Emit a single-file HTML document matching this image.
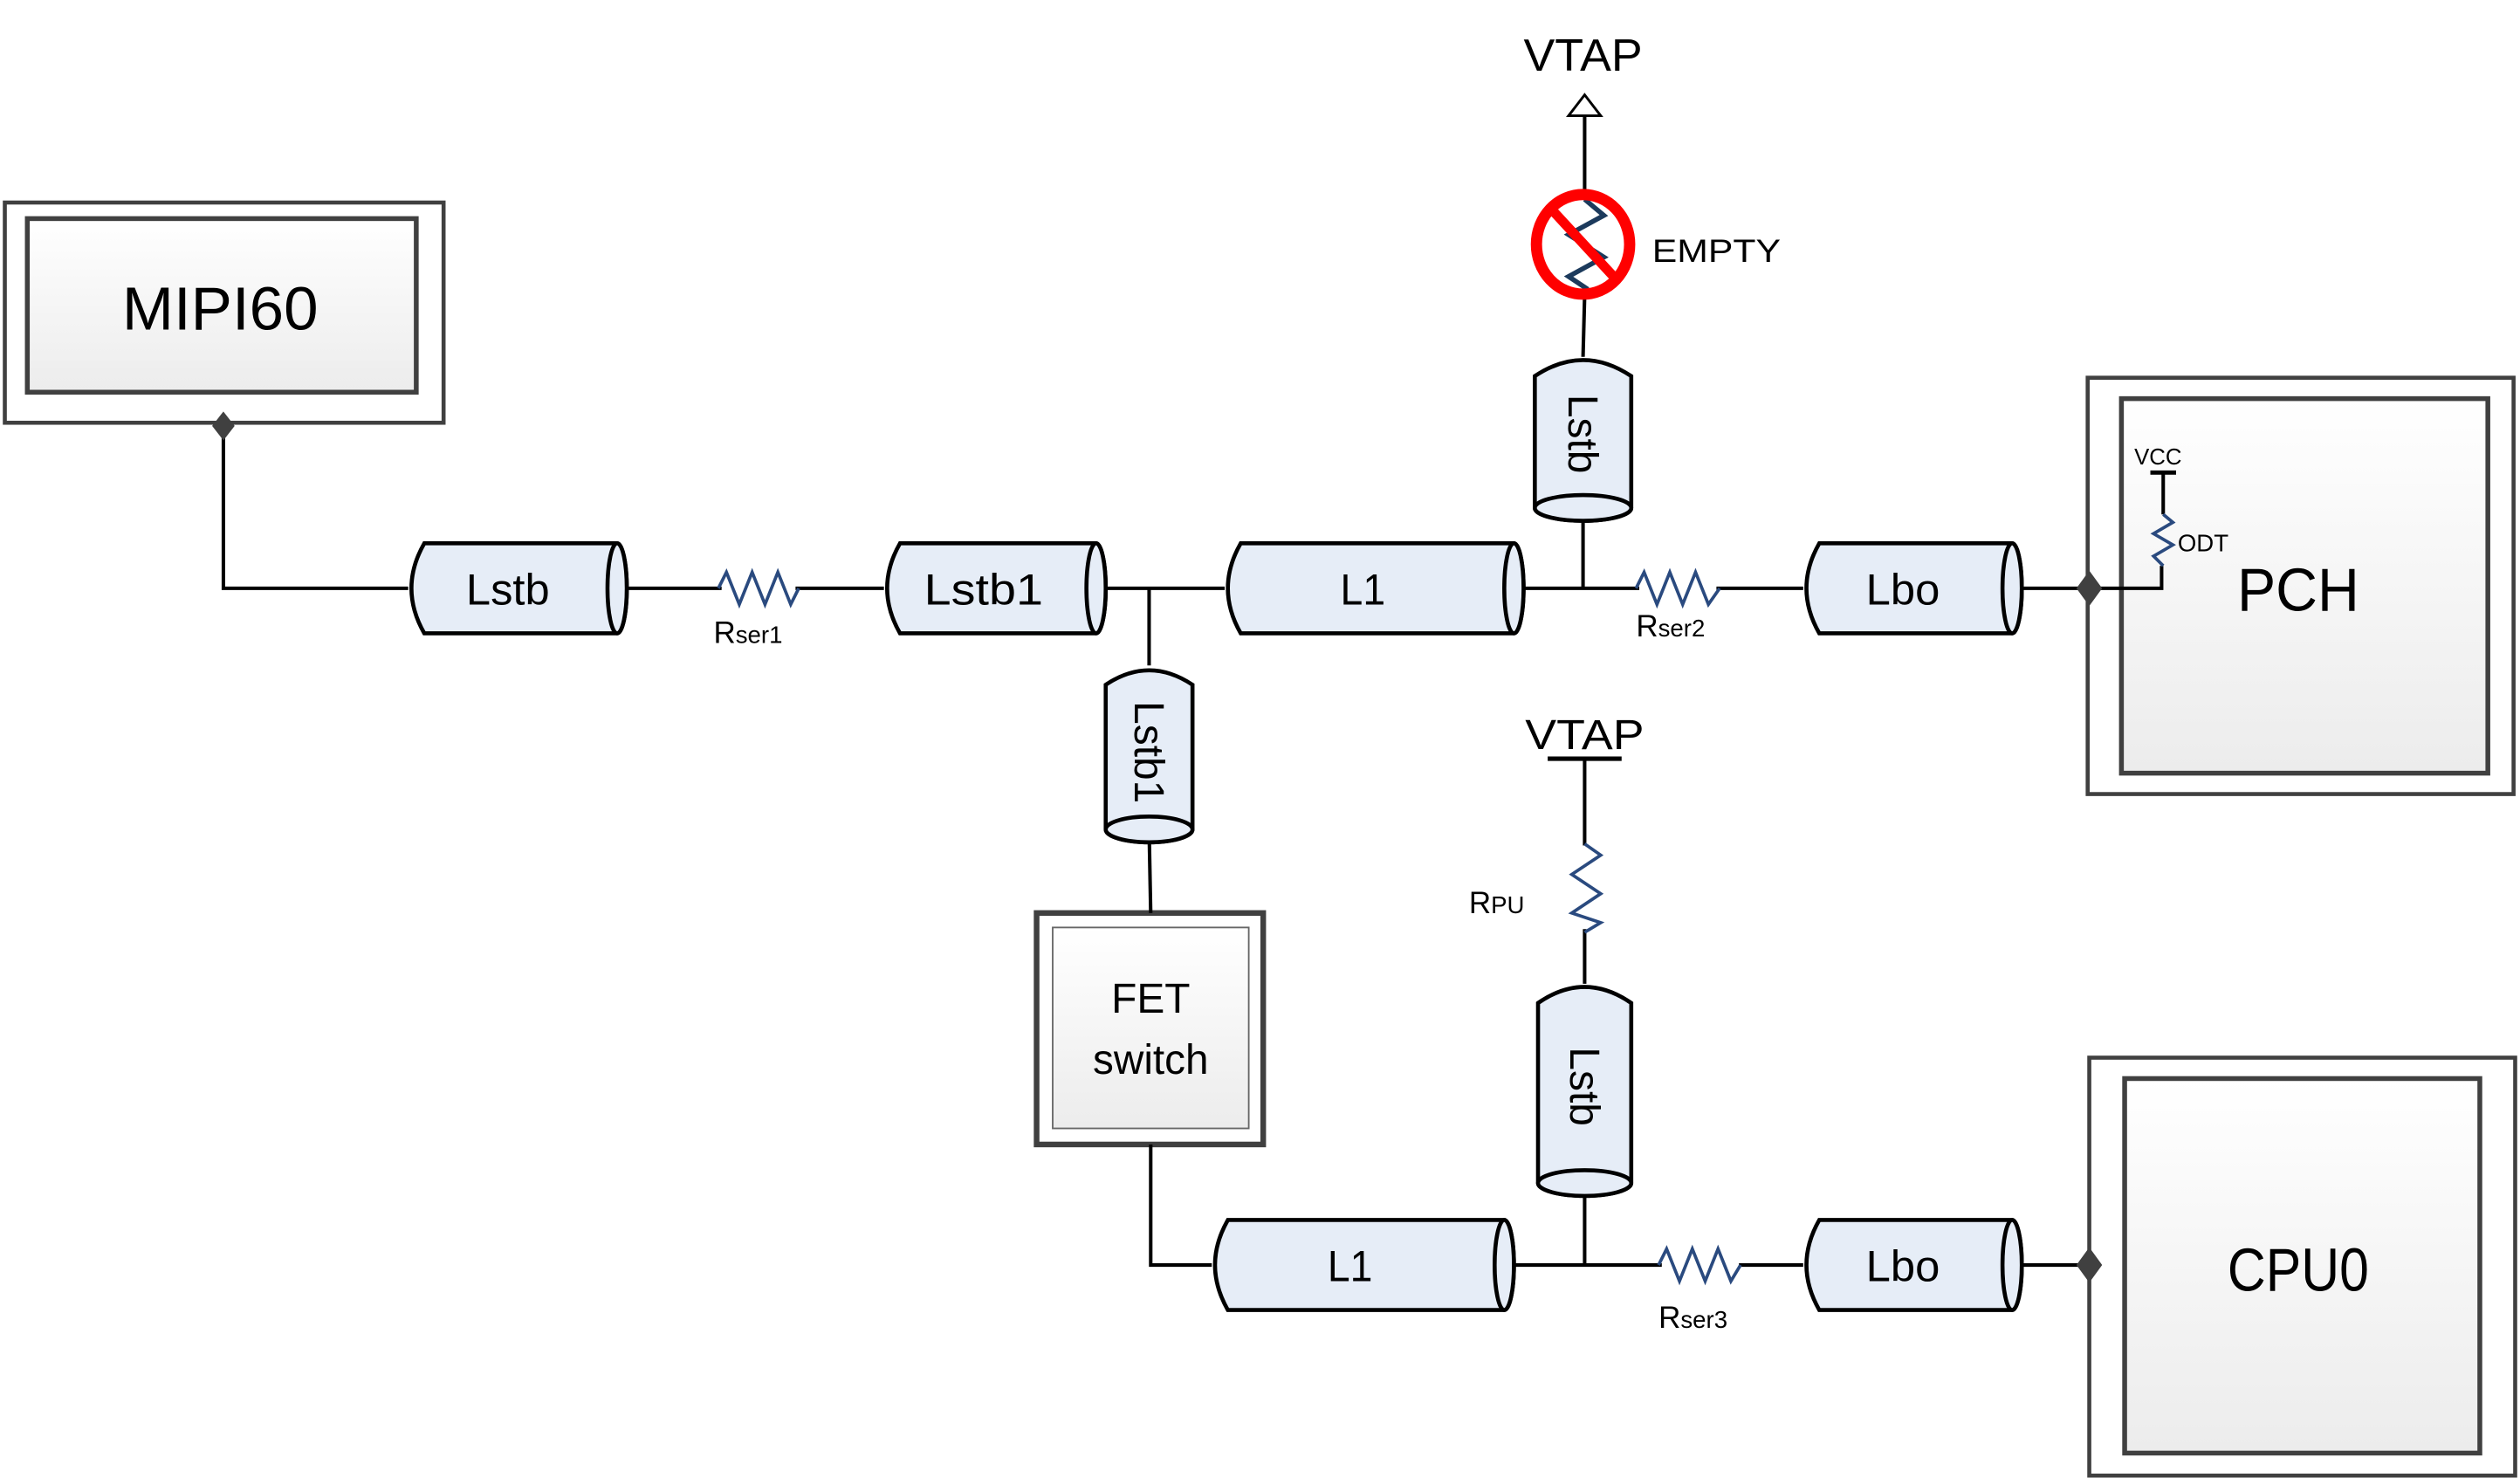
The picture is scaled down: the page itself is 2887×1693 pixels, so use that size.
<!DOCTYPE html>
<html><head><meta charset="utf-8"><style>
html,body{margin:0;padding:0;background:#fff;}
svg{display:block;}
text{font-family:"Liberation Sans",sans-serif;fill:#000;}
</style></head><body>
<svg width="2887" height="1693" viewBox="0 0 1568 919.5" preserveAspectRatio="none" xmlns="http://www.w3.org/2000/svg">
<defs>
<linearGradient id="g" x1="0" y1="0" x2="0" y2="1"><stop offset="0" stop-color="#ffffff"/><stop offset="1" stop-color="#ececec"/></linearGradient>
</defs>
<!-- boxes -->
<g stroke="#404040" stroke-width="2.5">
<rect x="3" y="126" width="273" height="137" fill="#fff"/>
<rect x="17" y="136" width="242" height="108" fill="url(#g)" stroke-width="3"/>
<rect x="1299" y="235" width="265" height="259" fill="#fff"/>
<rect x="1320" y="248" width="228" height="233" fill="url(#g)" stroke-width="3"/>
<rect x="1300" y="658" width="265" height="260" fill="#fff"/>
<rect x="1322" y="671" width="221" height="233" fill="url(#g)" stroke-width="3"/>
<rect x="645" y="568" width="141" height="144" fill="#fff" stroke-width="3.5"/>
<rect x="655" y="577" width="122" height="125" fill="url(#g)" stroke="#666" stroke-width="1"/>
</g>
<g fill="none" stroke="#000" stroke-width="2.2">
<!-- wires -->
<polyline points="139,270 139,366 254,366"/>
<line x1="384" y1="366" x2="449" y2="366"/>
<line x1="495" y1="366" x2="550" y2="366"/>
<line x1="682" y1="366" x2="762" y2="366"/>
<line x1="715" y1="366" x2="715" y2="414"/>
<line x1="715" y1="516" x2="716" y2="568"/>
<polyline points="716,712 716,787 754,787"/>
<line x1="942" y1="366" x2="1020" y2="366"/>
<line x1="1068" y1="366" x2="1122" y2="366"/>
<line x1="985" y1="366" x2="985" y2="316"/>
<line x1="985" y1="222" x2="986" y2="184"/>
<line x1="986" y1="120" x2="986" y2="70"/>
<line x1="1252" y1="366" x2="1300" y2="366"/>
<polyline points="1300,366 1345,366 1345,352"/>
<line x1="1346" y1="320" x2="1346" y2="294"/>
<line x1="1338" y1="294" x2="1354" y2="294" stroke-width="2.6"/>
<line x1="936" y1="787" x2="1034" y2="787"/>
<line x1="1082" y1="787" x2="1122" y2="787"/>
<line x1="1252" y1="787" x2="1300" y2="787"/>
<line x1="986" y1="787" x2="986" y2="736"/>
<line x1="986" y1="612" x2="986" y2="578"/>
<line x1="986" y1="526" x2="986" y2="472"/>
<line x1="963" y1="472" x2="1009" y2="472" stroke-width="2.8"/>
</g>
<!-- open arrow -->
<polygon points="986,59 976,72 996,72" fill="#fff" stroke="#000" stroke-width="1.6"/>
<!-- resistors -->
<g fill="none" stroke="#2a4a7f" stroke-width="2">
<polyline points="447,366 452,356 460,376 468,356 476,376 484,356 492,376 497,366"/>
<polyline points="1018,366 1023,356 1031,376 1039,356 1047,376 1055,356 1063,376 1070,366"/>
<polyline points="1032,787 1037,777 1045,797 1053,777 1061,797 1069,777 1077,797 1083,787"/>
<polyline points="986,525 996,532 978,544 996,556 978,568 996,574 986,580"/>
<polyline points="1346,320 1352,325 1340,332 1352,339 1340,346 1346,352"/>
</g>
<polyline points="986,124 998,134 976,146 998,160 976,172 988,180" fill="none" stroke="#1c3a5c" stroke-width="3"/>
<ellipse cx="985" cy="152" rx="29" ry="31" fill="none" stroke="#ff0000" stroke-width="7"/>
<line x1="967" y1="132" x2="1004" y2="172" stroke="#ff0000" stroke-width="6"/>
<!-- diamonds -->
<g fill="#404040">
<polygon points="139,256 146,265 139,274 132,265"/>
<polygon points="1300,355 1308,366 1300,377 1292,366"/>
<polygon points="1300,776 1308,787 1300,798 1292,787"/>
</g>
<!-- cylinders -->
<g fill="#e6edf7" stroke="#000" stroke-width="2.5">
<path d="M264,338 L384,338 A6,28 0 0 1 384,394 L264,394 Q248,366 264,338Z"/><ellipse cx="384" cy="366" rx="6" ry="28"/>
<path d="M560,338 L682,338 A6,28 0 0 1 682,394 L560,394 Q544,366 560,338Z"/><ellipse cx="682" cy="366" rx="6" ry="28"/>
<path d="M772,338 L942,338 A6,28 0 0 1 942,394 L772,394 Q756,366 772,338Z"/><ellipse cx="942" cy="366" rx="6" ry="28"/>
<path d="M1132,338 L1252,338 A6,28 0 0 1 1252,394 L1132,394 Q1116,366 1132,338Z"/><ellipse cx="1252" cy="366" rx="6" ry="28"/>
<path d="M764,759 L936,759 A6,28 0 0 1 936,815 L764,815 Q748,787 764,759Z"/><ellipse cx="936" cy="787" rx="6" ry="28"/>
<path d="M1132,759 L1252,759 A6,28 0 0 1 1252,815 L1132,815 Q1116,787 1132,759Z"/><ellipse cx="1252" cy="787" rx="6" ry="28"/>
<path d="M688,426 Q715,408 742,426 L742,516 A27,8 0 0 1 688,516Z"/><ellipse cx="715" cy="516" rx="27" ry="8"/>
<path d="M955,234 Q985,214 1015,234 L1015,316 A30,8 0 0 1 955,316Z"/><ellipse cx="985" cy="316" rx="30" ry="8"/>
<path d="M957,624 Q986,604 1015,624 L1015,736 A29,8 0 0 1 957,736Z"/><ellipse cx="986" cy="736" rx="29" ry="8"/>
</g>
<!-- texts -->
<g text-anchor="middle">
<text x="137" y="205" font-size="38" textLength="122" lengthAdjust="spacingAndGlyphs">MIPI60</text>
<text x="316" y="376" font-size="27" textLength="52" lengthAdjust="spacingAndGlyphs">Lstb</text>
<text x="612" y="376" font-size="27" textLength="74" lengthAdjust="spacingAndGlyphs">Lstb1</text>
<text x="848" y="376" font-size="27" textLength="28" lengthAdjust="spacingAndGlyphs">L1</text>
<text x="1184" y="376" font-size="27" textLength="46" lengthAdjust="spacingAndGlyphs">Lbo</text>
<text x="840" y="797" font-size="27" textLength="28" lengthAdjust="spacingAndGlyphs">L1</text>
<text x="1184" y="797" font-size="27" textLength="46" lengthAdjust="spacingAndGlyphs">Lbo</text>
<text x="1430" y="380" font-size="38" textLength="76" lengthAdjust="spacingAndGlyphs">PCH</text>
<text x="1430" y="803" font-size="38" textLength="88" lengthAdjust="spacingAndGlyphs">CPU0</text>
<text x="716" y="630" font-size="26">FET</text>
<text x="716" y="668" font-size="26" textLength="72" lengthAdjust="spacingAndGlyphs">switch</text>
<text x="985" y="44" font-size="28" textLength="74" lengthAdjust="spacingAndGlyphs">VTAP</text>
<text x="986" y="466" font-size="26" textLength="74" lengthAdjust="spacingAndGlyphs">VTAP</text>
<text transform="translate(715,468) rotate(90)" font-size="26" dy="9">Lstb1</text>
<text transform="translate(985,270) rotate(90)" font-size="26" dy="9">Lstb</text>
<text transform="translate(986,676) rotate(90)" font-size="26" dy="9">Lstb</text>
</g>
<text x="1028" y="163" font-size="20" textLength="80" lengthAdjust="spacingAndGlyphs">EMPTY</text>
<text x="1328" y="289" font-size="14">VCC</text>
<text x="1355" y="343" font-size="15">ODT</text>
<text x="444" y="400" font-size="19">R<tspan font-size="15">ser1</tspan></text>
<text x="1018" y="396" font-size="19">R<tspan font-size="15">ser2</tspan></text>
<text x="1032" y="826" font-size="19">R<tspan font-size="15">ser3</tspan></text>
<text x="914" y="568" font-size="19">R<tspan font-size="15">PU</tspan></text>
</svg>
</body></html>
